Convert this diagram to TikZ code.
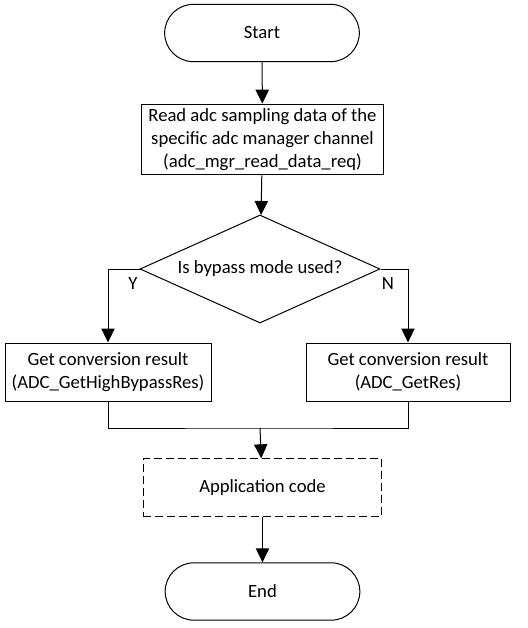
\documentclass[tikz,border=0pt]{standalone}
\usepackage{fontspec}
\setmainfont{Carlito}
\usetikzlibrary{shapes.geometric, arrows.meta}

\tikzset{
  terminal/.style={draw, rounded corners=21.5pt, minimum width=146pt, minimum height=43pt},
  process/.style={draw, align=center, minimum height=43.5pt},
  decision/.style={draw, diamond, aspect=2.22, inner sep=0pt, minimum width=180pt, minimum height=81pt},
  flow/.style={-{Triangle[length=10.5pt, width=10pt]}},
}

\begin{document}
\begin{tikzpicture}[x=0.75pt, y=-0.75pt, line width=0.75pt, font=\fontsize{14}{17.2}\selectfont]
  \useasboundingbox (0, 0) rectangle (528, 628);
  \node[terminal] (start) at (262, 33) {Start};
  \node[process, minimum width=182pt, minimum height=53pt, inner sep=1pt] (read) at (262.5, 139.5)
    {Read adc sampling data of the\\specific adc manager channel\\(adc\_mgr\_read\_data\_req)};
  \node[decision] (bypass) at (260, 269) {Is bypass mode used?};
  \node[process, minimum width=154.5pt] (highres) at (108, 372)
    {Get conversion result\\(ADC\_GetHighBypassRes)};
  \node[process, minimum width=153pt] (res) at (408, 372)
    {Get conversion result\\(ADC\_GetRes)};
  \coordinate (join) at (260, 428);
  \node[process, dashed, dash pattern=on 6pt off 3pt, minimum width=179pt, minimum height=43pt] (app) at (262.5, 487.5) {Application code};
  \node[terminal] (end) at (262.5, 591.5) {End};

  \node (yes) at (133, 284) {Y};
  \node (no) at (388, 284) {N};

  \draw[flow] (start) -- (read);
  \draw[flow] (read) -- (bypass);
  \draw[flow] (bypass.west) -| (highres.north);
  \draw[flow] (bypass.east) -| (res.north);
  \draw (highres.south) |- (join) -| (res.south);
  \draw[flow] (join) -- (app);
  \draw[flow] (app) -- (end);
\end{tikzpicture}
\end{document}
